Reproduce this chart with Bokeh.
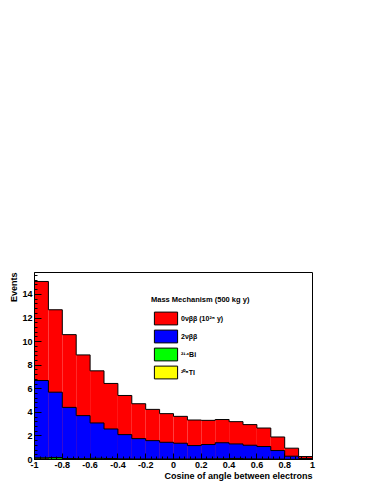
import numpy as np
from bokeh.plotting import figure
from bokeh.models import Range1d, FixedTicker, Title, Legend, LegendItem
from bokeh.embed import file_html
from bokeh.resources import INLINE

# ---- data ----
bin_edges = [-1.0, -0.9, -0.8, -0.7, -0.6, -0.5, -0.4, -0.3, -0.2, -0.1, 0.0,
             0.1, 0.2, 0.3, 0.4, 0.5, 0.6, 0.7, 0.8, 0.9, 1.0]
tl_208 = [0.10, 0.03, 0.02, 0.02, 0.02, 0.02, 0.01, 0.01, 0.01, 0.01,
          0.01, 0.01, 0.01, 0.01, 0.01, 0.01, 0.01, 0.01, 0.00, 0.00]
bi_214 = [0.04, 0.14, 0.06, 0.05, 0.08, 0.06, 0.04, 0.03, 0.03, 0.03,
          0.03, 0.03, 0.04, 0.05, 0.08, 0.04, 0.03, 0.02, 0.02, 0.00]
two_nu = [6.56, 5.54, 4.34, 3.65, 3.00, 2.51, 2.06, 1.73, 1.56, 1.42,
          1.34, 1.14, 1.22, 1.36, 1.23, 1.16, 1.06, 0.73, 0.26, 0.08]
zero_nu = [8.40, 6.99, 6.17, 5.15, 4.42, 3.86, 3.32, 2.96, 2.65, 2.43,
           2.28, 2.17, 2.05, 1.97, 1.89, 1.75, 1.57, 1.15, 0.68, 0.17]

x_ticks = [-1.0, -0.8, -0.6, -0.4, -0.2, 0.0, 0.2, 0.4, 0.6, 0.8, 1.0]
x_tick_labels = ["-1", "-0.8", "-0.6", "-0.4", "-0.2", "0", "0.2", "0.4", "0.6", "0.8", "1"]
y_ticks = [0, 2, 4, 6, 8, 10, 12, 14]

legend_title = "Mass Mechanism (500 kg y)"
labels = ["0νββ (10²⁵ y)", "2νββ", "²¹⁴Bi", "²⁰⁸Tl"]
colors = ["#ff0000", "#0000ff", "#00ff00", "#ffff00"]

FONT = "Liberation Sans"

# ---- figure ----
p = figure(width=374, height=484, output_backend="svg", toolbar_location=None,
           x_range=Range1d(-1, 1), y_range=Range1d(0, 15.86),
           min_border_left=34, min_border_right=62, min_border_top=272,
           min_border_bottom=25)
p.xgrid.visible = False
p.ygrid.visible = False
p.outline_line_color = "black"
p.outline_line_width = 1
p.background_fill_color = "white"
p.border_fill_color = "white"

edges = np.array(bin_edges)
stack = np.cumsum(np.array([tl_208, bi_214, two_nu, zero_nu]), axis=0)
# draw order as in ROOT THStack: total first (red), then lower layers
layer_tops = [stack[3], stack[2], stack[1], stack[0]]
for top, col in zip(layer_tops, colors):
    p.quad(left=edges[:-1], right=edges[1:], bottom=0, top=top,
           fill_color=col, line_color=None)
    xs = np.repeat(edges, 2)
    ys = np.concatenate([[0.0], np.repeat(top, 2), [0.0]])
    p.line(xs, ys, line_color="black", line_width=1)

# axes
p.xaxis.ticker = FixedTicker(ticks=x_ticks,
                             minor_ticks=list(np.round(np.arange(-1, 1.0001, 0.04), 2)))
p.xaxis.major_label_overrides = {t: l for t, l in zip(x_ticks, x_tick_labels)}
p.yaxis.ticker = FixedTicker(ticks=y_ticks,
                             minor_ticks=list(np.round(np.arange(0, 15.8, 0.4), 2)))
for ax in (p.xaxis[0], p.yaxis[0]):
    ax.major_label_text_font = FONT
    ax.major_label_text_font_style = "bold"
    ax.major_label_text_font_size = "9px"
    ax.major_label_text_color = "black"
    ax.major_tick_out = 0
    ax.minor_tick_out = 0
    ax.axis_line_color = "black"
    ax.major_tick_line_color = "black"
    ax.minor_tick_line_color = "black"
    ax.major_label_standoff = 2
p.yaxis.major_tick_in = 7
p.yaxis.minor_tick_in = 3
p.xaxis.major_tick_in = 6
p.xaxis.minor_tick_in = 3

# axis titles
p.add_layout(Title(text="Events", align="right", text_font=FONT,
                   text_font_style="bold", text_font_size="9px",
                   text_color="black", standoff=2), "left")
p.add_layout(Title(text="Cosine of angle between electrons", align="right",
                   text_font=FONT, text_font_style="bold", text_font_size="9px",
                   text_color="black", standoff=-3), "below")

# legend (proxy glyphs of zero size so the boxes get drawn)
items = []
for lab, col in zip(labels, colors):
    r = p.quad(left=[-1], right=[-1], bottom=[0], top=[0], fill_color=col,
               line_color="black", line_width=1)
    items.append(LegendItem(label=lab, renderers=[r]))
legend = Legend(items=items, location=(117, 79), title=legend_title,
                title_text_font=FONT, title_text_font_style="bold",
                title_text_font_size="7.5px", title_text_color="black",
                label_text_font=FONT, label_text_color="black",
                label_text_font_style="bold", label_text_font_size="7px",
                glyph_width=29, glyph_height=16, label_height=16,
                label_standoff=1, spacing=2, padding=0, margin=0,
                title_standoff=6, border_line_color=None,
                background_fill_alpha=0)
p.add_layout(legend)

open("out.html", "w").write(file_html(p, INLINE))
